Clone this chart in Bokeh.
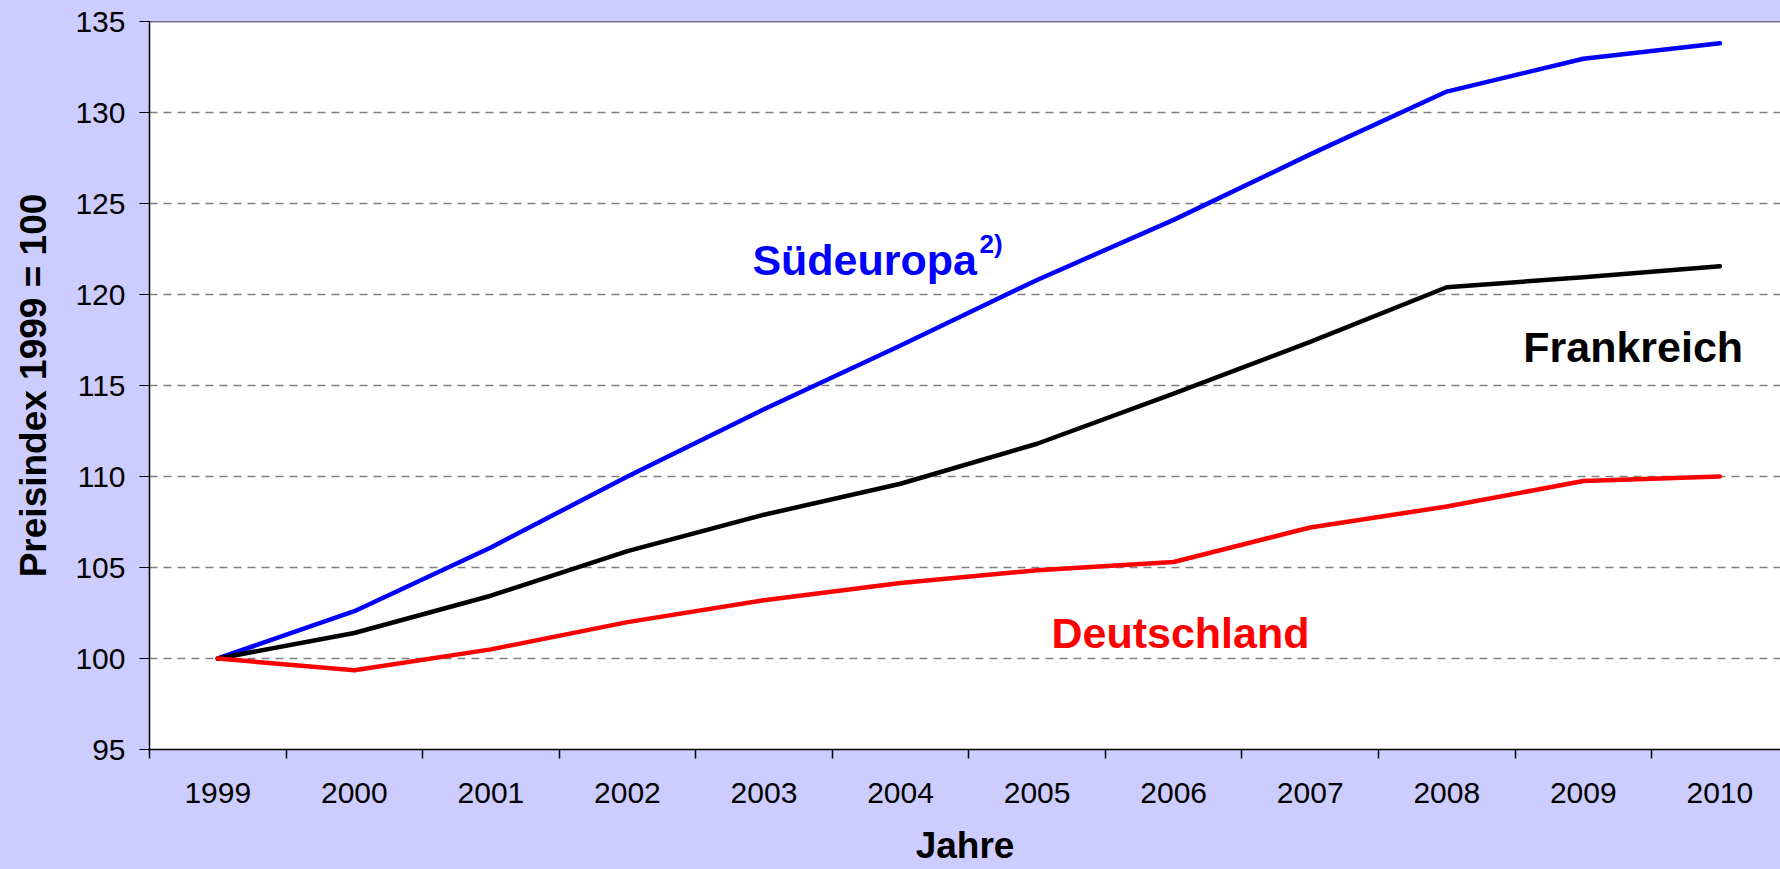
from bokeh.plotting import figure
from bokeh.models import FixedTicker, Range1d, Label, Span
from bokeh.embed import file_html
from bokeh.resources import INLINE

# ---- data ----
years = [1999, 2000, 2001, 2002, 2003, 2004, 2005, 2006, 2007, 2008, 2009, 2010]
suedeuropa = [100, 102.6, 106.1, 110.0, 113.7, 117.2, 120.8, 124.1, 127.7, 131.15, 132.95, 133.8]
frankreich = [100, 101.4, 103.45, 105.9, 107.9, 109.6, 111.8, 114.55, 117.4, 120.4, 120.95, 121.55]
deutschland = [100, 99.35, 100.5, 102.0, 103.2, 104.15, 104.85, 105.3, 107.2, 108.35, 109.75, 110.0]
y_ticks = [95, 100, 105, 110, 115, 120, 125, 130, 135]
year_labels = [str(y) for y in years]
category_bounds = [y - 0.5 for y in years]

FONT = "Liberation Sans"
BG = "#CCCCFF"

p = figure(width=1780, height=869, output_backend="svg", toolbar_location=None,
           x_range=Range1d(1998.5, 2010.444), y_range=Range1d(95, 135),
           min_border_left=149, min_border_right=0, min_border_top=21,
           min_border_bottom=120)

p.background_fill_color = "white"
p.border_fill_color = BG
p.outline_line_color = None

# lines
for vals, col in [(suedeuropa, "#0000FF"), (frankreich, "#000000"), (deutschland, "#FF0000")]:
    p.line(years, vals, line_color=col, line_width=4.5, line_join="round", line_cap="round")

# grid
p.xgrid.grid_line_color = None
p.ygrid.grid_line_color = "#808080"
p.ygrid.grid_line_dash = "8 6"
p.ygrid.grid_line_width = 1.5

# top border line
p.add_layout(Span(location=135, dimension="width", line_color="black", line_width=1.5))

# y axis
ya = p.yaxis[0]
ya.ticker = FixedTicker(ticks=y_ticks)
ya.axis_line_color = "black"
ya.axis_line_width = 1.5
ya.major_tick_line_color = "black"
ya.major_tick_out = 10
ya.major_tick_in = 0
ya.minor_tick_out = 0
ya.minor_tick_in = 0
ya.major_label_standoff = 14
ya.major_label_text_font = FONT
ya.major_label_text_font_size = "30px"
ya.major_label_text_color = "black"
ya.axis_label = "Preisindex 1999 = 100"
ya.axis_label_text_font = FONT
ya.axis_label_text_font_size = "37px"
ya.axis_label_text_font_style = "bold"
ya.axis_label_text_color = "black"
ya.axis_label_standoff = 18

# x axis
xa = p.xaxis[0]
xa.ticker = FixedTicker(ticks=years, minor_ticks=category_bounds)
xa.major_label_overrides = {y: s for y, s in zip(years, year_labels)}
xa.axis_line_color = "black"
xa.axis_line_width = 1.5
xa.major_tick_out = 0
xa.major_tick_in = 0
xa.minor_tick_out = 9
xa.minor_tick_in = 0
xa.minor_tick_line_color = "black"
xa.minor_tick_line_width = 1.5
xa.major_label_standoff = 24
xa.major_label_text_font = FONT
xa.major_label_text_font_size = "30px"
xa.major_label_text_color = "black"
xa.axis_label = "Jahre"
xa.axis_label_text_font = FONT
xa.axis_label_text_font_size = "37px"
xa.axis_label_text_font_style = "bold"
xa.axis_label_text_color = "black"
xa.axis_label_standoff = 19

# series labels
def lab(x, y, text, color, size):
    p.add_layout(Label(x=x, y=y, text=text, text_color=color, text_font=FONT,
                       text_font_size=size, text_font_style="bold",
                       text_align="left", text_baseline="alphabetic"))

lab(2002.915, 121.9, "Südeuropa", "#0000FF", "43px")
lab(2004.578, 122.8, "2)", "#0000FF", "26px")
lab(2008.56, 117.1, "Frankreich", "#000000", "43px")
lab(2005.105, 101.4, "Deutschland", "#FF0000", "43px")

html = file_html(p, INLINE)
html = html.replace("<head>", "<head><style>html,body{background:%s;}</style>" % BG, 1)
open("out.html", "w").write(html)
